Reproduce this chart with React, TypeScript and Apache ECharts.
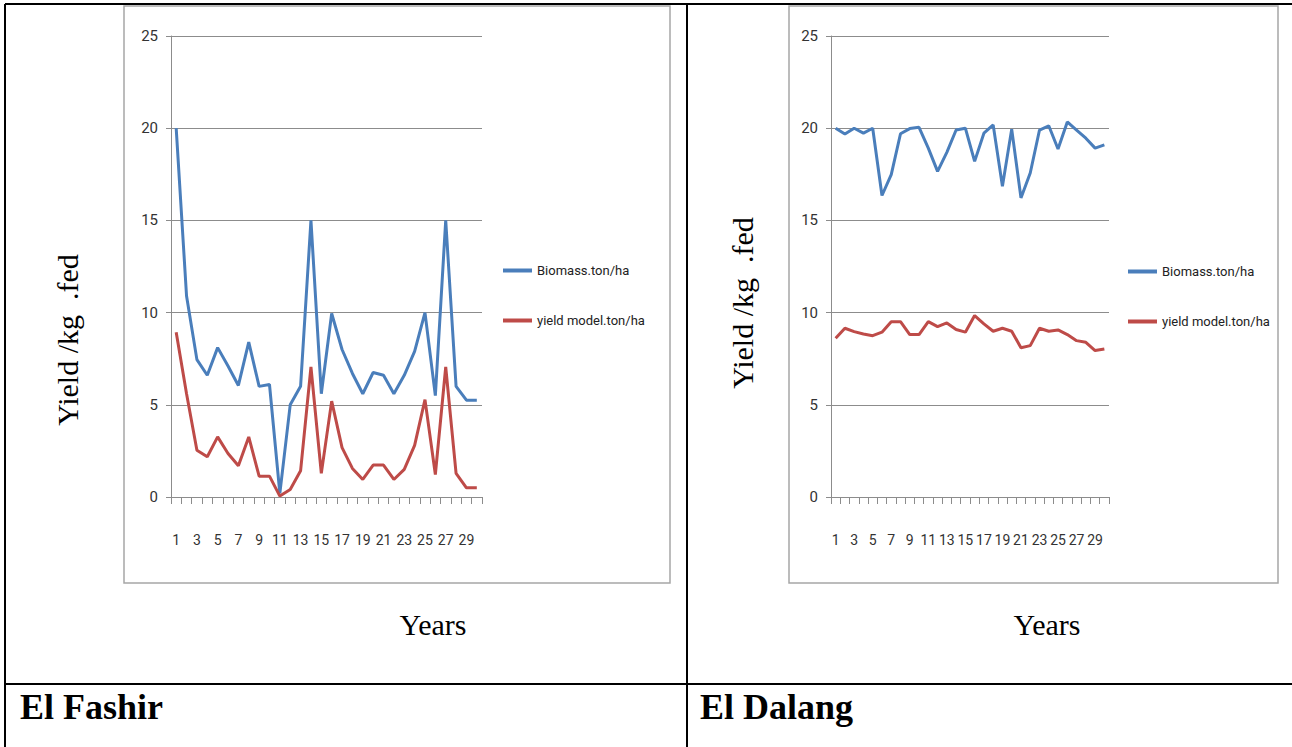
import React, { useEffect, useRef } from "react";
import * as echarts from "echarts";

// Years 1..30
const years: string[] = Array.from({ length: 30 }, (_, i) => String(i + 1));

// El Fashir
const fashirBiomass: number[] = [
  20.0, 10.9, 7.45, 6.6, 8.1, 7.1, 6.05, 8.4, 6.0, 6.1,
  0.2, 5.0, 6.0, 15.0, 5.6, 9.95, 8.0, 6.7, 5.6, 6.75,
  6.6, 5.6, 6.6, 7.9, 10.0, 5.5, 15.0, 6.0, 5.25, 5.25,
];
const fashirYield: number[] = [
  8.94, 5.6, 2.54, 2.18, 3.26, 2.36, 1.69, 3.26, 1.13, 1.13,
  0.05, 0.41, 1.42, 7.05, 1.28, 5.2, 2.68, 1.55, 0.95, 1.73,
  1.73, 0.95, 1.5, 2.8, 5.28, 1.22, 7.05, 1.28, 0.5, 0.5,
];

// El Dalang
const dalangBiomass: number[] = [
  20.0, 19.68, 20.0, 19.73, 20.0, 16.35, 17.48, 19.7, 19.98, 20.05,
  18.92, 17.66, 18.69, 19.9, 20.0, 18.2, 19.73, 20.18, 16.85, 19.95,
  16.22, 17.57, 19.9, 20.13, 18.87, 20.34, 19.9, 19.46, 18.92, 19.1,
];
const dalangYield: number[] = [
  8.61, 9.15, 8.97, 8.84, 8.75, 8.94, 9.51, 9.51, 8.81, 8.81,
  9.51, 9.24, 9.44, 9.08, 8.94, 9.84, 9.39, 8.99, 9.15, 8.99,
  8.09, 8.21, 9.15, 8.99, 9.06, 8.81, 8.48, 8.39, 7.94, 8.03,
];

const seriesNames: string[] = ["Biomass.ton/ha", "yield model.ton/ha"];
const stationNames: string[] = ["El Fashir", "El Dalang"];
const yAxisTitle = "Yield /kg  .fed";
const xAxisTitle = "Years";

const BLUE = "#4a7ebb";
const RED = "#be4b48";
const GRID_GRAY = "#8c8c8c";
const NARROW = "Roboto, 'Liberation Sans Narrow', sans-serif";
const SERIF = "'Liberation Serif', 'Times New Roman', serif";

const panels = [
  { grid: { left: 171, top: 36, width: 311, height: 461 }, frame: [124, 6, 546, 577], legend: { left: 503, top: 264 } },
  { grid: { left: 831, top: 36, width: 278, height: 461 }, frame: [789, 6, 489, 577], legend: { left: 1128, top: 265 } },
];

function xAxisFor(gridIndex: number) {
  return {
    type: "category",
    gridIndex,
    data: years,
    boundaryGap: true,
    axisLine: { show: true, lineStyle: { color: GRID_GRAY, width: 1 } },
    axisTick: { show: true, interval: 0, length: 7, lineStyle: { color: GRID_GRAY } },
    axisLabel: {
      interval: 1,
      margin: 36,
      color: "#333",
      fontFamily: NARROW,
      fontSize: 14,
      hideOverlap: false,
    },
    splitLine: { show: false },
  };
}

function yAxisFor(gridIndex: number) {
  return {
    type: "value",
    gridIndex,
    min: 0,
    max: 25,
    interval: 5,
    axisLine: { show: true, lineStyle: { color: GRID_GRAY, width: 1 } },
    axisTick: { show: true, length: 5, lineStyle: { color: GRID_GRAY } },
    axisLabel: { margin: 13, color: "#333", fontFamily: NARROW, fontSize: 15 },
    splitLine: { show: true, lineStyle: { color: GRID_GRAY, width: 1 } },
  };
}

function lineSeries(name: string, data: number[], color: string, idx: number) {
  return {
    type: "line",
    name,
    data,
    xAxisIndex: idx,
    yAxisIndex: idx,
    symbol: "none",
    lineStyle: { color, width: 3 },
    itemStyle: { color },
    z: 3,
  };
}

export default function App() {
  const ref = useRef<HTMLDivElement>(null);

  useEffect(() => {
    if (!ref.current) return;
    const chart = echarts.init(ref.current, undefined, { renderer: "svg" });

    const black = { stroke: "#000", lineWidth: 2 };
    const graphic: any[] = [
      // table rules
      { type: "line", shape: { x1: 5, y1: 4, x2: 1292, y2: 4 }, style: black },
      { type: "line", shape: { x1: 5, y1: 4, x2: 5, y2: 747 }, style: black },
      { type: "line", shape: { x1: 687, y1: 4, x2: 687, y2: 747 }, style: black },
      { type: "line", shape: { x1: 5, y1: 684, x2: 1292, y2: 684 }, style: black },
    ];

    panels.forEach((p) => {
      const [fx, fy, fw, fh] = p.frame;
      graphic.push({
        type: "rect",
        shape: { x: fx, y: fy, width: fw, height: fh },
        style: { fill: "none", stroke: "#a6a6a6", lineWidth: 1.5 },
        z: 0,
      });
    });

    // axis titles and station names
    const yTitlePos = [
      [67, 340],
      [742, 303],
    ];
    const xTitlePos = [
      [433, 624],
      [1047, 624],
    ];
    const namePos = [
      [20, 707],
      [700, 707],
    ];
    for (let i = 0; i < 2; i++) {
      graphic.push({
        type: "text",
        x: yTitlePos[i][0],
        y: yTitlePos[i][1],
        rotation: Math.PI / 2,
        style: {
          text: yAxisTitle,
          font: `30px ${SERIF}`,
          fill: "#000",
          textAlign: "center",
          textVerticalAlign: "middle",
        },
      });
      graphic.push({
        type: "text",
        x: xTitlePos[i][0],
        y: xTitlePos[i][1],
        style: {
          text: xAxisTitle,
          font: `30px ${SERIF}`,
          fill: "#000",
          textAlign: "center",
          textVerticalAlign: "middle",
        },
      });
      graphic.push({
        type: "text",
        x: namePos[i][0],
        y: namePos[i][1],
        style: {
          text: stationNames[i],
          font: `bold 36px ${SERIF}`,
          fill: "#000",
          textAlign: "left",
          textVerticalAlign: "middle",
        },
      });
    }

    chart.setOption({
      animation: false,
      backgroundColor: "#fff",
      grid: panels.map((p) => ({ ...p.grid, containLabel: false })),
      xAxis: [xAxisFor(0), xAxisFor(1)],
      yAxis: [yAxisFor(0), yAxisFor(1)],
      legend: panels.map((p) => ({
        orient: "vertical",
        left: p.legend.left,
        top: p.legend.top,
        padding: 0,
        itemWidth: 29,
        itemHeight: 4,
        itemGap: 37,
        icon: "rect",
        selectedMode: false,
        textStyle: { fontFamily: NARROW, fontSize: 13, color: "#222" },
        data: seriesNames,
      })),
      series: [
        lineSeries(seriesNames[0], fashirBiomass, BLUE, 0),
        lineSeries(seriesNames[1], fashirYield, RED, 0),
        lineSeries(seriesNames[0], dalangBiomass, BLUE, 1),
        lineSeries(seriesNames[1], dalangYield, RED, 1),
      ],
      graphic,
    });

    return () => chart.dispose();
  }, []);

  return (
    <div
      ref={ref}
      style={{ position: "absolute", left: 0, top: 0, width: 1292, height: 747, background: "#fff" }}
    />
  );
}
